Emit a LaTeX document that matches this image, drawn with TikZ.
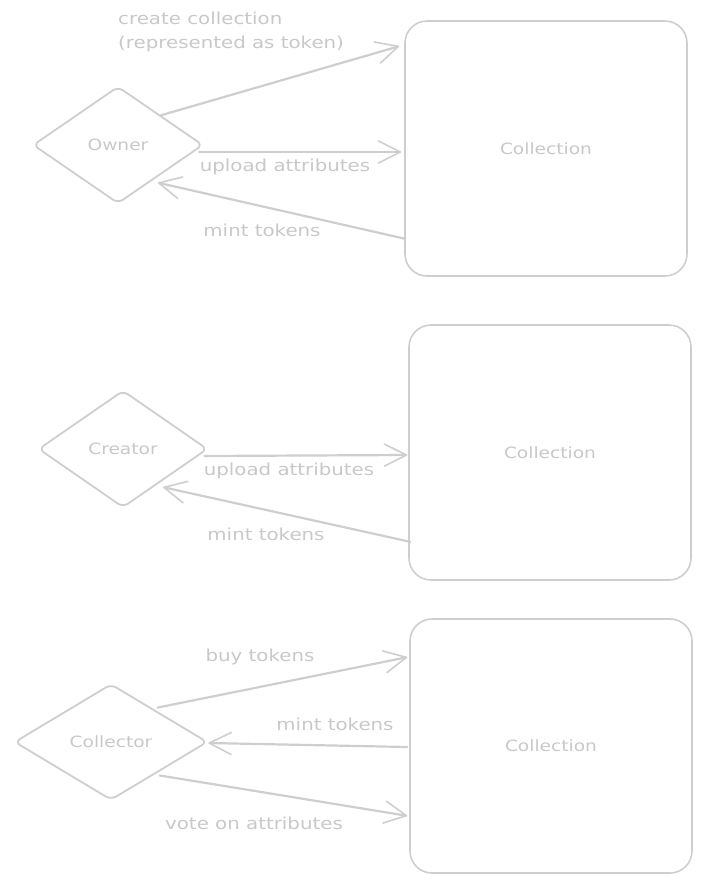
\documentclass[tikz,border=0pt]{standalone}
\usepackage{fontspec}
\newfontfamily\hand[FakeStretch=1.2]{DejaVu Sans}
\usetikzlibrary{shapes.geometric,arrows.meta,calc}
\definecolor{lg}{RGB}{206,206,206}
\definecolor{lt}{RGB}{200,200,200}
\begin{document}
\begin{tikzpicture}[x=1pt,y=-1pt,
  actor/.style={diamond,draw=lg,line width=1.8pt,rounded corners=6pt,inner sep=0pt,text=lt,font=\hand\fontsize{15.5}{18}\selectfont},
  coll/.style={rectangle,draw=lg,line width=1.6pt,rounded corners=22pt,minimum width=282pt,minimum height=255pt,inner sep=0pt,text=lt,font=\hand\fontsize{15.5}{18}\selectfont},
  lbl/.style={text=lt,inner sep=0pt,font=\hand\fontsize{16.5}{24}\selectfont},
  flow/.style={draw=lg,line width=2.2pt,line cap=round,-{Straight Barb[length=22pt,width=22pt,line width=1.6pt,round]}}
]
\useasboundingbox (0,0) rectangle (702,883);

% Panel 1
\node[actor,minimum width=170pt,minimum height=117pt] (owner) at (118,145) {Owner};
\node[coll] (box1) at (546,148.5) {Collection};
\draw[flow] (owner.north east) -- ($(box1.north west)+(-5,26)$);
\draw[flow] ($(owner.east)+(-5,7)$) -- ($(box1.west)+(-3,3.5)$);
\draw[flow] ($(box1.south west)+(1,-38)$) -- ($(owner.south east)+(-3,8)$);
\node[lbl,align=left,anchor=west] (l1a) at (118,32) {create collection\\(represented as token)};
\node[lbl] (l1b) at (285,167) {upload attributes};
\node[lbl] (l1c) at (262,230) {mint tokens};

% Panel 2
\node[actor,minimum width=169pt,minimum height=117pt] (creator) at (123,449) {Creator};
\node[coll] (box2) at (550,452.5) {Collection};
\draw[flow] ($(creator.east)+(-4,7)$) -- ($(box2.west)+(-1,2.5)$);
\draw[flow] ($(box2.south west)+(2,-39)$) -- ($(creator.south east)+(-2.5,8.5)$);
\node[lbl] (l2a) at (289,471) {upload attributes};
\node[lbl] (l2b) at (266,534) {mint tokens};

% Panel 3
\node[actor,minimum width=193pt,minimum height=116pt] (collector) at (111,742) {Collector};
\node[coll,minimum height=254pt] (box3) at (551,746) {Collection};
\draw[flow] ($(collector.north east)+(-2,-5)$) -- ($(box3.north west)+(-2,39)$);
\draw[flow] ($(box3.west)+(-2,1)$) -- ($(collector.east)+(0,1)$);
\draw[flow] ($(collector.south east)+(0,4)$) -- ($(box3.south west)+(-2,-58)$);
\node[lbl] (l3a) at (260,657) {buy tokens};
\node[lbl] (l3b) at (335,724) {mint tokens};
\node[lbl] (l3c) at (254,823) {vote on attributes};
\end{tikzpicture}
\end{document}
